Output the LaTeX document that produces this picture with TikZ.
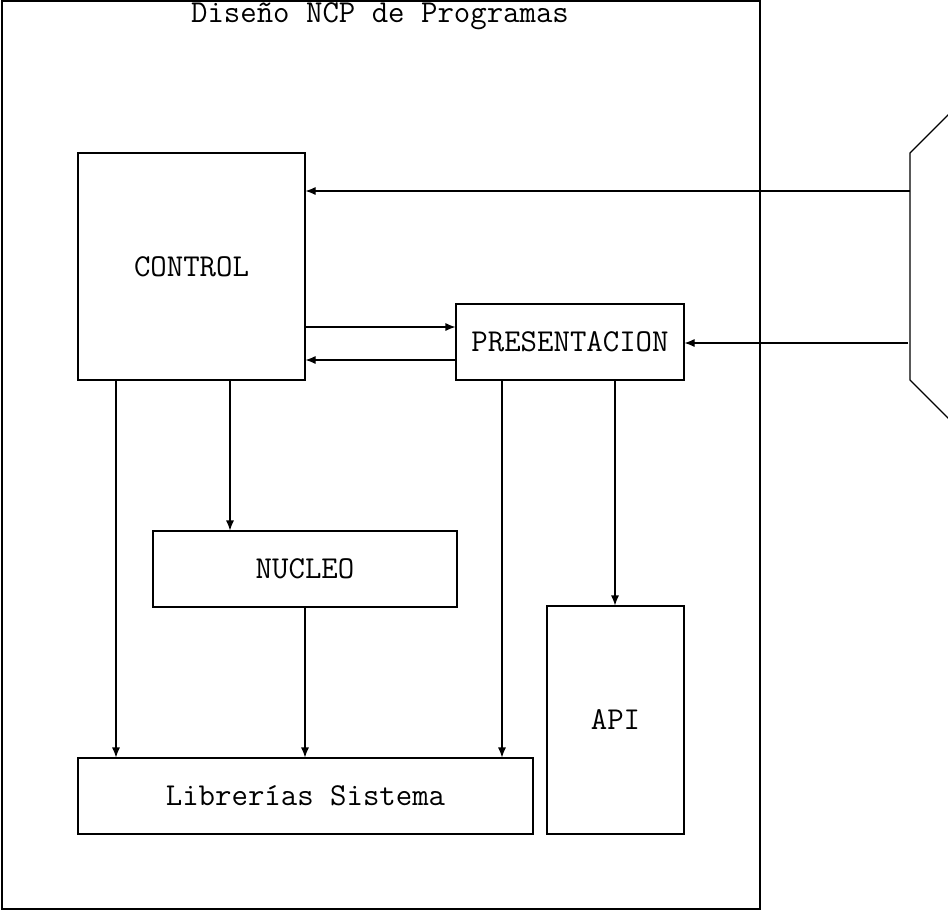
\documentclass[tikz,border=0pt]{standalone}
\usetikzlibrary{arrows.meta}
\begin{document}
\begin{tikzpicture}[x=0.5pt,y=-0.5pt,
  box/.style={draw, line width=0.55pt, inner sep=0pt, font=\fontsize{15.95}{18}\selectfont\ttfamily},
  arr/.style={line width=0.55pt, -{Latex[length=5pt,width=4pt]}},
  ln/.style={line width=0.55pt}]
\useasboundingbox (0,0) rectangle (948,911);
\draw[ln] (2,1) rectangle (760,909);
\node[font=\fontsize{15.95}{18}\selectfont\ttfamily, anchor=base, inner sep=0pt] (title) at (380,22) {Diseño NCP de Programas};
\node[box, minimum width=227*0.5pt, minimum height=227*0.5pt] (ctrl) at (191.5,266.5) {CONTROL};
\node[box, minimum width=228*0.5pt, minimum height=76*0.5pt] (pres) at (570,342) {PRESENTACION};
\node[box, minimum width=304*0.5pt, minimum height=76*0.5pt] (nuc) at (305,569) {NUCLEO};
\node[box, minimum width=137*0.5pt, minimum height=228*0.5pt] (api) at (615.5,720) {API};
\node[box, minimum width=455*0.5pt, minimum height=76*0.5pt] (lib) at (305.5,796) {Librerías Sistema};
% external shape
\draw[ln] (960,103) -- (910,153) -- (910,380) -- (960,430);
\coordinate (e1) at (910,191);
\coordinate (e2) at (908,343);
\draw[arr] (e1) -- (ctrl.east |- e1);
\draw[arr] (e2) -- (pres.east |- e2);
\coordinate (h1) at (0,327);
\coordinate (h2) at (0,360);
\draw[arr] (ctrl.east |- h1) -- (pres.west |- h1);
\draw[arr] (pres.west |- h2) -- (ctrl.east |- h2);
\coordinate (v1) at (116,0);
\coordinate (v2) at (230,0);
\coordinate (v3) at (305,0);
\coordinate (v4) at (502,0);
\coordinate (v5) at (615,0);
\draw[arr] (ctrl.south -| v1) -- (lib.north -| v1);
\draw[arr] (ctrl.south -| v2) -- (nuc.north -| v2);
\draw[arr] (nuc.south -| v3) -- (lib.north -| v3);
\draw[arr] (pres.south -| v4) -- (lib.north -| v4);
\draw[arr] (pres.south -| v5) -- (api.north -| v5);
\end{tikzpicture}
\end{document}
